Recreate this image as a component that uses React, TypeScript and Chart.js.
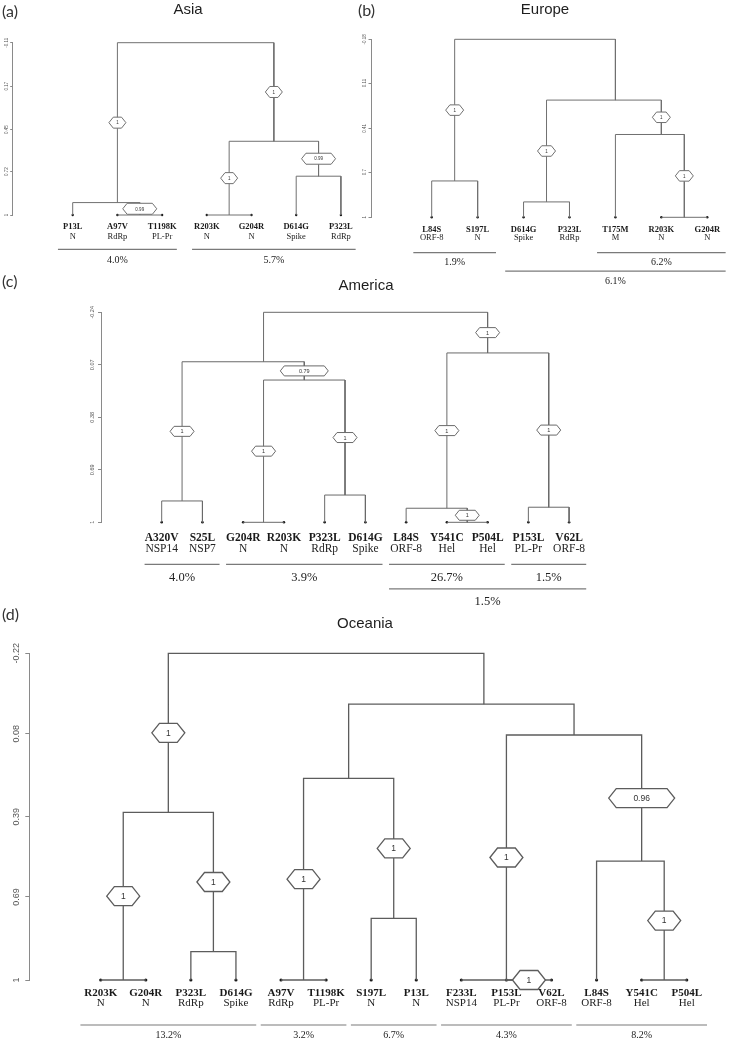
import React, { useEffect, useRef } from 'react';
import { Chart, registerables } from 'chart.js';

Chart.register(...registerables);

// ---------- (a) Asia ----------
const asiaLeaves = ['P13L', 'A97V', 'T1198K', 'R203K', 'G204R', 'D614G', 'P323L'];
const asiaGenes = ['N', 'RdRp', 'PL-Pr', 'N', 'N', 'Spike', 'RdRp'];
const asiaMerge = [[-2, -3], [-1, 1], [-4, -5], [-6, -7], [3, 4], [2, 5]];
const asiaHeights = [1, 0.92, 1, 0.75, 0.525, -0.11];
const asiaSupport = ['0.99', '1', '1', '0.99', '1', ''];
const asiaTicks = [-0.11, 0.17, 0.45, 0.72, 1];
const asiaTickLabels = ['-0.11', '0.17', '0.45', '0.72', '1'];
const asiaGroups = [[1, 3, '4.0%', 0], [4, 7, '5.7%', 0]];

// ---------- (b) Europe ----------
const europeLeaves = ['L84S', 'S197L', 'D614G', 'P323L', 'T175M', 'R203K', 'G204R'];
const europeGenes = ['ORF-8', 'N', 'Spike', 'RdRp', 'M', 'N', 'N'];
const europeMerge = [[-1, -2], [-3, -4], [-6, -7], [-5, 3], [2, 4], [1, 5]];
const europeHeights = [0.759, 0.898, 1, 0.451, 0.223, -0.18];
const europeSupport = ['1', '1', '1', '1', '', ''];
const europeTicks = [-0.18, 0.11, 0.41, 0.7, 1];
const europeTickLabels = ['-0.18', '0.11', '0.41', '0.7', '1'];
const europeGroups = [[1, 2, '1.9%', 0], [5, 7, '6.2%', 0], [3, 7, '6.1%', 1]];

// ---------- (c) America ----------
const americaLeaves = ['A320V', 'S25L', 'G204R', 'R203K', 'P323L', 'D614G', 'L84S', 'Y541C', 'P504L', 'P153L', 'V62L'];
const americaGenes = ['NSP14', 'NSP7', 'N', 'N', 'RdRp', 'Spike', 'ORF-8', 'Hel', 'Hel', 'PL-Pr', 'ORF-8'];
const americaMerge = [[-1, -2], [-3, -4], [-5, -6], [2, 3], [1, 4], [-8, -9], [-7, 6], [-10, -11], [7, 8], [5, 9]];
const americaHeights = [0.874, 1, 0.839, 0.16, 0.052, 1, 0.917, 0.911, 0.0, -0.24];
const americaSupport = ['1', '1', '1', '0.79', '', '1', '1', '1', '1', ''];
const americaTicks = [-0.24, 0.07, 0.38, 0.69, 1];
const americaTickLabels = ['-0.24', '0.07', '0.38', '0.69', '1'];
const americaGroups = [[1, 2, '4.0%', 0], [3, 6, '3.9%', 0], [7, 9, '26.7%', 0], [10, 11, '1.5%', 0], [7, 11, '1.5%', 1]];

// ---------- (d) Oceania ----------
const oceaniaLeaves = ['R203K', 'G204R', 'P323L', 'D614G', 'A97V', 'T1198K', 'S197L', 'P13L', 'F233L', 'P153L', 'V62L', 'L84S', 'Y541C', 'P504L'];
const oceaniaGenes = ['N', 'N', 'RdRp', 'Spike', 'RdRp', 'PL-Pr', 'N', 'N', 'NSP14', 'PL-Pr', 'ORF-8', 'ORF-8', 'Hel', 'Hel'];
const oceaniaMerge = [[-1, -2], [-3, -4], [1, 2], [-5, -6], [-7, -8], [4, 5], [-10, -11], [-9, 7], [-13, -14], [-12, 9], [8, 10], [6, 11], [3, 12]];
const oceaniaHeights = [1, 0.894, 0.374, 1, 0.77, 0.247, 1, 1, 1, 0.556, 0.085, -0.03, -0.22];
const oceaniaSupport = ['1', '1', '1', '1', '1', '', '1', '1', '1', '0.96', '', '', ''];
const oceaniaTicks = [-0.22, 0.08, 0.39, 0.69, 1];
const oceaniaTickLabels = ['-0.22', '0.08', '0.39', '0.69', '1'];
const oceaniaGroups = [[1, 4, '13.2%', 0], [5, 6, '3.2%', 0], [7, 8, '6.7%', 0], [9, 11, '4.3%', 0], [12, 14, '8.2%', 0]];

const LEAF_LEVEL = 1;
const AXW = 10;

const PANELS: any[] = [
  {
    key: 'asia', letter: '(a)', title: 'Asia',
    leaves: asiaLeaves, genes: asiaGenes, merge: asiaMerge, heights: asiaHeights, support: asiaSupport,
    ticks: asiaTicks, tickLabels: asiaTickLabels, groups: asiaGroups,
    canvasTop: 0, canvasH: 272, axisX: 12.7, axisTop: 42.7, axisBottom: 215, leaf0X: 72.7, dx: 44.7, rightX: 362,
    titleX: 188, titleY: 9.5, letterX: 2, letterY: 11.5,
    tickFont: 4.5, tickOff: 6, tickLen: 2.5,
    hexW: 17, hexH: 11, hexFont: 4.5,
    labelFont: 8.5, mutOff: 11.7, geneOff: 21.5, groupPad: 0.33, groupLineOff: 34.3, groupTextOff: 45, groupRowGap: 18, pctFont: 10,
    lineW: 1, lineColor: '#707070', dotR: 1.2,
  },
  {
    key: 'europe', letter: '(b)', title: 'Europe',
    leaves: europeLeaves, genes: europeGenes, merge: europeMerge, heights: europeHeights, support: europeSupport,
    ticks: europeTicks, tickLabels: europeTickLabels, groups: europeGroups,
    canvasTop: 0, canvasH: 292, axisX: 371, axisTop: 39.3, axisBottom: 217.3, leaf0X: 431.7, dx: 45.93, rightX: 727,
    titleX: 545, titleY: 9.5, letterX: 358, letterY: 11,
    tickFont: 4.5, tickOff: 6, tickLen: 2.5,
    hexW: 18, hexH: 10.5, hexFont: 4.5,
    labelFont: 8.5, mutOff: 12, geneOff: 20.5, groupPad: 0.4, groupLineOff: 35.4, groupTextOff: 45.4, groupRowGap: 18.5, pctFont: 10,
    lineW: 1, lineColor: '#707070', dotR: 1.2,
  },
  {
    key: 'america', letter: '(c)', title: 'America',
    leaves: americaLeaves, genes: americaGenes, merge: americaMerge, heights: americaHeights, support: americaSupport,
    ticks: americaTicks, tickLabels: americaTickLabels, groups: americaGroups,
    canvasTop: 268, canvasH: 340, axisX: 101, axisTop: 312.3, axisBottom: 522.3, leaf0X: 161.7, dx: 40.74, rightX: 600,
    titleX: 366, titleY: 286, letterX: 2, letterY: 282,
    tickFont: 5.5, tickOff: 8.3, tickLen: 3,
    hexW: 24, hexH: 10, hexFont: 5.5,
    labelFont: 11.5, mutOff: 15.4, geneOff: 27, groupPad: 0.42, groupLineOff: 42, groupTextOff: 55, groupRowGap: 24.5, pctFont: 12.5,
    lineW: 1, lineColor: '#6a6a6a', dotR: 1.3,
  },
  {
    key: 'oceania', letter: '(d)', title: 'Oceania',
    leaves: oceaniaLeaves, genes: oceaniaGenes, merge: oceaniaMerge, heights: oceaniaHeights, support: oceaniaSupport,
    ticks: oceaniaTicks, tickLabels: oceaniaTickLabels, groups: oceaniaGroups,
    canvasTop: 598, canvasH: 446, axisX: 29.3, axisTop: 653.3, axisBottom: 980, leaf0X: 100.7, dx: 45.08, rightX: 715,
    titleX: 365, titleY: 624, letterX: 2, letterY: 615,
    tickFont: 9, tickOff: 12.6, tickLen: 4,
    hexW: 33, hexH: 19, hexFont: 8.5,
    labelFont: 11, mutOff: 12.7, geneOff: 23.3, groupPad: 0.45, groupLineOff: 45, groupTextOff: 55, groupRowGap: 20, pctFont: 10,
    lineW: 1.3, lineColor: '#5c5c5c', dotR: 1.6,
  },
];

function buildTree(merge: number[][], heights: number[]) {
  const lo: number[] = [];
  const hi: number[] = [];
  const parent: number[] = merge.map(() => -1);
  const span = (r: number) => (r < 0 ? [-r - 1, -r - 1] : [lo[r - 1], hi[r - 1]]);
  merge.forEach(([a, b], k) => {
    const sa = span(a);
    const sb = span(b);
    lo[k] = Math.min(sa[0], sb[0]);
    hi[k] = Math.max(sa[1], sb[1]);
    if (a > 0) parent[a - 1] = k;
    if (b > 0) parent[b - 1] = k;
  });
  const center = (r: number) => (r < 0 ? -r - 1 : (lo[r - 1] + hi[r - 1]) / 2);
  const heightOf = (r: number) => (r < 0 ? LEAF_LEVEL : heights[r - 1]);
  return { parent, center, heightOf };
}

function hexagon(ctx: CanvasRenderingContext2D, cx: number, cy: number, w: number, h: number) {
  const i = h * 0.4;
  ctx.beginPath();
  ctx.moveTo(cx - w / 2, cy);
  ctx.lineTo(cx - w / 2 + i, cy - h / 2);
  ctx.lineTo(cx + w / 2 - i, cy - h / 2);
  ctx.lineTo(cx + w / 2, cy);
  ctx.lineTo(cx + w / 2 - i, cy + h / 2);
  ctx.lineTo(cx - w / 2 + i, cy + h / 2);
  ctx.closePath();
  ctx.fillStyle = '#ffffff';
  ctx.fill();
  ctx.stroke();
}

function decorPlugin(p: any) {
  return {
    id: 'decor_' + p.key,
    afterDraw(chart: any) {
      const ctx: CanvasRenderingContext2D = chart.ctx;
      const xs = chart.scales.x;
      const ys = chart.scales.y;
      const T = p.canvasTop;
      const { parent, center } = buildTree(p.merge, p.heights);
      const bottom = ys.getPixelForValue(LEAF_LEVEL);
      ctx.save();
      ctx.textAlign = 'center';
      ctx.textBaseline = 'middle';

      // bootstrap hexagons
      ctx.strokeStyle = p.lineColor;
      ctx.lineWidth = p.lineW;
      p.merge.forEach((_m: number[], k: number) => {
        const lab = p.support[k];
        if (!lab || parent[k] < 0) return;
        const cx = xs.getPixelForValue(center(k + 1));
        const cy = ys.getPixelForValue((p.heights[k] + p.heights[parent[k]]) / 2);
        const w = p.hexW * (1 + (lab.length - 1) / 3);
        ctx.strokeStyle = p.lineColor;
        hexagon(ctx, cx, cy, w, p.hexH);
        ctx.fillStyle = '#333';
        ctx.font = `${p.hexFont}px "Liberation Sans", Arial, sans-serif`;
        ctx.fillText(lab, cx, cy + 0.5);
      });

      // leaf labels
      p.leaves.forEach((name: string, i: number) => {
        const x = xs.getPixelForValue(i);
        ctx.fillStyle = '#1a1a1a';
        ctx.font = `bold ${p.labelFont}px "Liberation Serif", "Times New Roman", serif`;
        ctx.fillText(name, x, bottom + p.mutOff);
        ctx.fillStyle = '#222';
        ctx.font = `${p.labelFont}px "Liberation Serif", "Times New Roman", serif`;
        ctx.fillText(p.genes[i], x, bottom + p.geneOff);
      });

      // percentage groups
      p.groups.forEach((g: any[]) => {
        const [from, to, label, row] = g;
        const x1 = xs.getPixelForValue(from - 1 - p.groupPad);
        const x2 = xs.getPixelForValue(to - 1 + p.groupPad);
        const ly = bottom + p.groupLineOff + row * p.groupRowGap;
        ctx.strokeStyle = '#7a7a7a';
        ctx.lineWidth = 1.2;
        ctx.beginPath();
        ctx.moveTo(x1, ly);
        ctx.lineTo(x2, ly);
        ctx.stroke();
        ctx.fillStyle = '#222';
        ctx.font = `${p.pctFont}px "Liberation Serif", "Times New Roman", serif`;
        ctx.fillText(label, (x1 + x2) / 2, bottom + p.groupTextOff + row * p.groupRowGap);
      });

      // y tick labels (rotated)
      ctx.fillStyle = '#555';
      ctx.font = `${p.tickFont}px "Liberation Sans", Arial, sans-serif`;
      p.ticks.forEach((v: number, i: number) => {
        const y = ys.getPixelForValue(v);
        ctx.save();
        ctx.translate(p.axisX - p.tickOff, y);
        ctx.rotate(-Math.PI / 2);
        ctx.fillText(p.tickLabels[i], 0, 0);
        ctx.restore();
      });

      // title and panel letter
      ctx.fillStyle = '#1e1e1e';
      ctx.font = '15px "Liberation Sans", Arial, sans-serif';
      ctx.fillText(p.title, p.titleX, p.titleY - T);
      ctx.textAlign = 'left';
      ctx.fillStyle = '#333';
      ctx.font = '16px Lato, "Noto Sans", sans-serif';
      ctx.fillText(p.letter, p.letterX, p.letterY - T);
      ctx.restore();
    },
  };
}

function makeConfig(p: any) {
  const { center, heightOf } = buildTree(p.merge, p.heights);
  const datasets: any[] = p.merge.map(([a, b]: number[], k: number) => {
    const h = p.heights[k];
    return {
      data: [
        { x: center(a), y: heightOf(a) },
        { x: center(a), y: h },
        { x: center(b), y: h },
        { x: center(b), y: heightOf(b) },
      ],
      showLine: true,
      borderColor: p.lineColor,
      borderWidth: p.lineW,
      pointRadius: 0,
      fill: false,
      tension: 0,
      clip: false,
    };
  });
  datasets.push({
    data: p.leaves.map((_n: string, i: number) => ({ x: i, y: LEAF_LEVEL })),
    showLine: false,
    pointRadius: p.dotR,
    pointBackgroundColor: '#1a1a1a',
    pointBorderWidth: 0,
    clip: false,
  });
  const xmin = (p.axisX - p.leaf0X) / p.dx;
  const xmax = (p.rightX - p.leaf0X) / p.dx;
  return {
    type: 'scatter',
    data: { datasets },
    options: {
      responsive: false,
      animation: false,
      devicePixelRatio: 1,
      events: [],
      layout: {
        autoPadding: false,
        padding: {
          left: p.axisX - AXW,
          right: 730 - p.rightX,
          top: p.axisTop - p.canvasTop,
          bottom: p.canvasTop + p.canvasH - p.axisBottom,
        },
      },
      plugins: { legend: { display: false }, tooltip: { enabled: false }, title: { display: false } },
      scales: {
        x: { type: 'linear', display: false, min: xmin, max: xmax },
        y: {
          type: 'linear',
          reverse: true,
          min: p.ticks[0],
          max: LEAF_LEVEL,
          position: 'left',
          afterBuildTicks: (s: any) => {
            s.ticks = p.ticks.map((v: number) => ({ value: v }));
          },
          afterFit: (s: any) => {
            s.width = AXW;
          },
          ticks: { display: false },
          grid: { display: true, drawOnChartArea: false, drawTicks: true, tickLength: p.tickLen, color: '#8a8a8a', lineWidth: 1 },
          border: { display: true, color: '#8a8a8a', width: 1 },
        },
      },
    },
    plugins: [decorPlugin(p)],
  };
}

function PanelChart({ p }: { p: any }) {
  const ref = useRef<HTMLCanvasElement | null>(null);
  useEffect(() => {
    if (!ref.current) return;
    const chart = new Chart(ref.current, makeConfig(p) as any);
    return () => chart.destroy();
  }, [p]);
  return (
    <canvas
      ref={ref}
      width={730}
      height={p.canvasH}
      style={{ position: 'absolute', left: 0, top: p.canvasTop, width: 730, height: p.canvasH }}
    />
  );
}

export default function App() {
  return (
    <div style={{ position: 'absolute', left: 0, top: 0, width: 730, height: 1044, background: '#ffffff', overflow: 'hidden' }}>
      {PANELS.map((p) => (
        <PanelChart key={p.key} p={p} />
      ))}
    </div>
  );
}
